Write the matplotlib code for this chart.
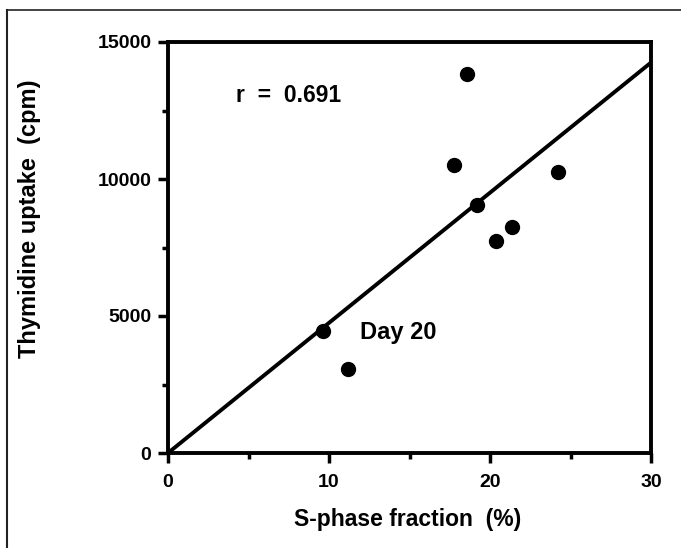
import matplotlib
matplotlib.use('Agg')
import matplotlib.pyplot as plt
from matplotlib.lines import Line2D
from matplotlib.ticker import MultipleLocator

# data
s_phase = [18.6, 17.75, 24.2, 19.2, 21.35, 20.4, 9.65, 11.2]
uptake = [13850, 10500, 10250, 9050, 8250, 7750, 4450, 3050]
fit_x = [0, 30]
fit_y = [0, 14250]
x_ticks = [0, 10, 20, 30]
y_ticks = [0, 5000, 10000, 15000]

plt.rcParams['font.family'] = ['Liberation Sans', 'DejaVu Sans']
plt.rcParams['font.weight'] = 'bold'

fig = plt.figure(figsize=(6.81, 5.48), dpi=100)
ax = fig.add_axes([168 / 681, 1 - 453 / 548, (651 - 168) / 681, (453 - 42) / 548])

ax.plot(fit_x, fit_y, color='black', lw=2.8, solid_capstyle='butt', clip_on=False)
ax.plot(s_phase, uptake, 'o', color='black', markersize=10)

ax.set_xlim(0, 30)
ax.set_ylim(0, 15000)
ax.set_xticks(x_ticks)
ax.set_yticks(y_ticks)
ax.xaxis.set_minor_locator(MultipleLocator(5))
ax.yaxis.set_minor_locator(MultipleLocator(2500))
ax.tick_params(which='major', direction='out', length=7, width=2.5, labelsize=14)
ax.tick_params(axis='x', which='major', pad=8)
ax.tick_params(axis='y', which='major', pad=5)
ax.tick_params(which='minor', direction='out', length=4, width=2.5)
for lab in ax.get_xticklabels() + ax.get_yticklabels():
    lab.set_fontweight('bold')
for sp in ax.spines.values():
    sp.set_linewidth(2.8)

ax.set_xlabel('S-phase fraction  (%)', fontsize=16.5, fontweight='bold', va='center')
ax.set_ylabel('Thymidine uptake  (cpm)', fontsize=17, fontweight='bold', va='center')
ax.xaxis.set_label_coords(0.497, -0.163)
ax.yaxis.set_label_coords(-0.286, 0.569)

ax.text(4.2, 13050, 'r  =  0.691', fontsize=16.5, fontweight='bold', va='center')
ax.text(11.9, 4380, 'Day 20', fontsize=17, fontweight='bold', va='center')

# partial frame around the figure (top and left edges of the scan)
fig.add_artist(Line2D([7 / 681, 1], [1 - 10 / 548, 1 - 10 / 548], color='#222222', lw=1.2))
fig.add_artist(Line2D([7 / 681, 7 / 681], [0, 1 - 10 / 548], color='#222222', lw=1.5))

fig.savefig('out.png', dpi=100)
